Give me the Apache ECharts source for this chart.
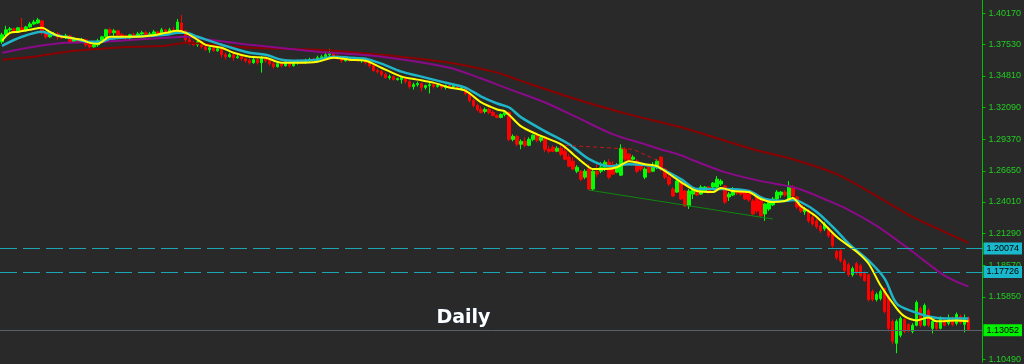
<!DOCTYPE html>
<html>
<head>
<meta charset="utf-8">
<script src="https://cdn.jsdelivr.net/npm/echarts@6/dist/echarts.min.js"></script>
<style>
html,body{margin:0;padding:0;background:#292929;}
#chart{width:1024px;height:364px;}
</style>
</head>
<body>
<div id="chart"></div>
<script>
// ---- Data (daily candles) ----
const opens = [1.3772,1.3832,1.3875,1.3883,1.3866,1.3892,1.3866,1.3900,1.3925,1.3934,
1.3951,1.3849,1.3815,1.3832,1.3840,1.3815,1.3806,1.3823,1.3772,1.3798,
1.3772,1.3789,1.3746,1.3729,1.3746,1.3781,1.3815,1.3875,1.3849,1.3866,
1.3832,1.3823,1.3806,1.3832,1.3815,1.3840,1.3849,1.3832,1.3840,1.3857,
1.3840,1.3875,1.3857,1.3875,1.3866,1.3934,1.3866,1.3789,1.3763,1.3746,
1.3772,1.3729,1.3704,1.3721,1.3695,1.3712,1.3661,1.3644,1.3661,1.3636,
1.3644,1.3627,1.3610,1.3593,1.3619,1.3593,1.3636,1.3610,1.3584,1.3559,
1.3584,1.3567,1.3593,1.3567,1.3593,1.3601,1.3593,1.3610,1.3619,1.3610,
1.3636,1.3644,1.3661,1.3670,1.3644,1.3636,1.3610,1.3627,1.3619,1.3627,
1.3610,1.3619,1.3593,1.3567,1.3525,1.3516,1.3491,1.3465,1.3474,1.3448,
1.3448,1.3465,1.3431,1.3388,1.3405,1.3414,1.3380,1.3397,1.3405,1.3388,
1.3397,1.3380,1.3397,1.3388,1.3397,1.3371,1.3380,1.3329,1.3269,1.3226,
1.3192,1.3175,1.3192,1.3167,1.3141,1.3124,1.3150,1.3167,1.2936,1.2962,
1.2894,1.2919,1.2885,1.2936,1.2971,1.2928,1.2954,1.2851,1.2868,1.2834,
1.2860,1.2834,1.2783,1.2749,1.2663,1.2663,1.2612,1.2681,1.2510,1.2663,
1.2663,1.2697,1.2740,1.2715,1.2655,1.2629,1.2851,1.2809,1.2766,1.2749,
1.2723,1.2612,1.2706,1.2663,1.2697,1.2783,1.2681,1.2612,1.2510,1.2484,
1.2570,1.2493,1.2365,1.2467,1.2510,1.2467,1.2493,1.2527,1.2527,1.2527,
1.2553,1.2536,1.2442,1.2459,1.2493,1.2484,1.2493,1.2467,1.2408,1.2442,
1.2408,1.2297,1.2339,1.2374,1.2425,1.2459,1.2484,1.2425,1.2527,1.2442,
1.2374,1.2314,1.2322,1.2271,1.2237,1.2194,1.2169,1.2169,1.2126,1.1973,
1.1981,1.1896,1.1862,1.1776,1.1870,1.1853,1.1785,1.1776,1.1632,1.1563,
1.1572,1.1657,1.1589,1.1376,1.1188,1.1256,1.1393,1.1350,1.1290,1.1342,
1.1487,1.1342,1.1469,1.1316,1.1359,1.1316,1.1393,1.1359,1.1384,1.1359,
1.1418,1.1350,1.1401];

const closes = [1.3832,1.3875,1.3883,1.3866,1.3892,1.3866,1.3900,1.3925,1.3942,1.3960,
1.3849,1.3815,1.3832,1.3840,1.3815,1.3806,1.3823,1.3772,1.3798,1.3772,
1.3789,1.3746,1.3729,1.3746,1.3781,1.3815,1.3875,1.3849,1.3866,1.3832,
1.3823,1.3806,1.3832,1.3815,1.3840,1.3849,1.3832,1.3840,1.3857,1.3840,
1.3875,1.3857,1.3875,1.3866,1.3942,1.3866,1.3789,1.3763,1.3746,1.3772,
1.3729,1.3704,1.3721,1.3695,1.3712,1.3661,1.3644,1.3661,1.3636,1.3644,
1.3627,1.3610,1.3593,1.3619,1.3593,1.3636,1.3610,1.3584,1.3559,1.3584,
1.3567,1.3593,1.3567,1.3593,1.3601,1.3593,1.3610,1.3619,1.3610,1.3636,
1.3644,1.3661,1.3670,1.3644,1.3636,1.3610,1.3627,1.3619,1.3627,1.3610,
1.3619,1.3593,1.3567,1.3525,1.3516,1.3491,1.3465,1.3474,1.3448,1.3457,
1.3465,1.3431,1.3388,1.3405,1.3414,1.3380,1.3397,1.3405,1.3388,1.3397,
1.3380,1.3397,1.3388,1.3397,1.3371,1.3380,1.3329,1.3269,1.3226,1.3192,
1.3167,1.3192,1.3167,1.3141,1.3124,1.3150,1.3167,1.2936,1.2962,1.2894,
1.2919,1.2885,1.2936,1.2971,1.2928,1.2954,1.2851,1.2834,1.2834,1.2860,
1.2809,1.2766,1.2706,1.2681,1.2697,1.2595,1.2663,1.2510,1.2663,1.2638,
1.2697,1.2740,1.2612,1.2638,1.2715,1.2860,1.2766,1.2749,1.2783,1.2663,
1.2681,1.2681,1.2655,1.2715,1.2749,1.2681,1.2612,1.2553,1.2450,1.2578,
1.2425,1.2365,1.2493,1.2510,1.2459,1.2527,1.2527,1.2484,1.2561,1.2595,
1.2578,1.2399,1.2467,1.2510,1.2476,1.2467,1.2425,1.2416,1.2297,1.2322,
1.2280,1.2382,1.2399,1.2425,1.2484,1.2484,1.2459,1.2536,1.2450,1.2357,
1.2322,1.2339,1.2237,1.2211,1.2186,1.2152,1.2211,1.2109,1.2024,1.1921,
1.1896,1.1811,1.1776,1.1828,1.1793,1.1768,1.1725,1.1563,1.1563,1.1606,
1.1632,1.1461,1.1316,1.1205,1.1376,1.1401,1.1290,1.1299,1.1342,1.1538,
1.1342,1.1512,1.1342,1.1376,1.1316,1.1401,1.1342,1.1401,1.1350,1.1435,
1.1367,1.1401,1.1305];

const lows = [1.3755,1.3823,1.3857,1.3849,1.3857,1.3857,1.3857,1.3892,1.3917,1.3925,
1.3832,1.3798,1.3806,1.3823,1.3789,1.3798,1.3798,1.3755,1.3763,1.3755,
1.3763,1.3729,1.3712,1.3721,1.3729,1.3772,1.3806,1.3832,1.3823,1.3815,
1.3798,1.3789,1.3798,1.3806,1.3806,1.3823,1.3815,1.3823,1.3832,1.3832,
1.3832,1.3840,1.3849,1.3857,1.3857,1.3849,1.3763,1.3746,1.3738,1.3729,
1.3712,1.3695,1.3678,1.3687,1.3687,1.3636,1.3619,1.3636,1.3610,1.3627,
1.3610,1.3593,1.3576,1.3584,1.3576,1.3508,1.3593,1.3567,1.3542,1.3550,
1.3550,1.3559,1.3550,1.3559,1.3576,1.3584,1.3584,1.3593,1.3601,1.3601,
1.3627,1.3636,1.3644,1.3636,1.3619,1.3593,1.3601,1.3601,1.3610,1.3601,
1.3593,1.3576,1.3550,1.3516,1.3499,1.3474,1.3457,1.3448,1.3440,1.3440,
1.3414,1.3414,1.3371,1.3363,1.3388,1.3346,1.3363,1.3329,1.3371,1.3380,
1.3363,1.3363,1.3371,1.3380,1.3363,1.3354,1.3312,1.3252,1.3209,1.3175,
1.3158,1.3158,1.3150,1.3133,1.3116,1.3116,1.3133,1.2919,1.2919,1.2877,
1.2851,1.2868,1.2877,1.2919,1.2911,1.2911,1.2826,1.2817,1.2826,1.2826,
1.2792,1.2757,1.2697,1.2672,1.2646,1.2578,1.2595,1.2501,1.2493,1.2612,
1.2646,1.2663,1.2595,1.2629,1.2646,1.2621,1.2749,1.2740,1.2757,1.2646,
1.2663,1.2595,1.2646,1.2655,1.2681,1.2663,1.2595,1.2536,1.2442,1.2476,
1.2416,1.2357,1.2339,1.2425,1.2450,1.2459,1.2484,1.2467,1.2510,1.2518,
1.2536,1.2382,1.2408,1.2450,1.2459,1.2450,1.2416,1.2399,1.2288,1.2305,
1.2271,1.2237,1.2322,1.2365,1.2408,1.2433,1.2442,1.2416,1.2433,1.2339,
1.2305,1.2288,1.2220,1.2194,1.2169,1.2135,1.2152,1.2092,1.2007,1.1904,
1.1879,1.1793,1.1759,1.1759,1.1776,1.1751,1.1717,1.1546,1.1546,1.1546,
1.1555,1.1444,1.1290,1.1179,1.1103,1.1239,1.1273,1.1282,1.1273,1.1333,
1.1325,1.1333,1.1325,1.1273,1.1299,1.1307,1.1333,1.1342,1.1333,1.1342,
1.1350,1.1282,1.1295];

const highs = [1.3849,1.3909,1.3900,1.3892,1.3900,1.3977,1.3909,1.3942,1.3960,1.3977,
1.3960,1.3857,1.3849,1.3857,1.3857,1.3832,1.3840,1.3832,1.3815,1.3806,
1.3806,1.3798,1.3755,1.3755,1.3798,1.3823,1.3883,1.3892,1.3883,1.3875,
1.3849,1.3832,1.3840,1.3849,1.3857,1.3866,1.3866,1.3857,1.3875,1.3866,
1.3892,1.3883,1.3892,1.3900,1.3968,1.4002,1.3875,1.3806,1.3781,1.3781,
1.3781,1.3738,1.3738,1.3729,1.3721,1.3721,1.3678,1.3678,1.3670,1.3661,
1.3653,1.3636,1.3627,1.3636,1.3636,1.3653,1.3644,1.3619,1.3601,1.3601,
1.3593,1.3610,1.3601,1.3610,1.3619,1.3619,1.3627,1.3636,1.3636,1.3653,
1.3661,1.3687,1.3712,1.3678,1.3661,1.3644,1.3636,1.3636,1.3644,1.3636,
1.3627,1.3627,1.3601,1.3576,1.3542,1.3533,1.3508,1.3491,1.3482,1.3465,
1.3482,1.3474,1.3440,1.3422,1.3431,1.3422,1.3405,1.3422,1.3414,1.3405,
1.3405,1.3405,1.3405,1.3414,1.3405,1.3388,1.3388,1.3337,1.3286,1.3243,
1.3218,1.3209,1.3209,1.3184,1.3150,1.3158,1.3184,1.3175,1.2979,1.2971,
1.2936,1.2954,1.2954,1.2979,1.2988,1.2962,1.2962,1.2877,1.2885,1.2877,
1.2885,1.2868,1.2809,1.2783,1.2715,1.2672,1.2681,1.2723,1.2681,1.2723,
1.2740,1.2757,1.2766,1.2749,1.2732,1.2894,1.2868,1.2817,1.2800,1.2766,
1.2732,1.2697,1.2723,1.2740,1.2766,1.2792,1.2689,1.2629,1.2527,1.2595,
1.2587,1.2501,1.2510,1.2527,1.2518,1.2544,1.2536,1.2536,1.2570,1.2621,
1.2595,1.2544,1.2484,1.2527,1.2501,1.2501,1.2501,1.2484,1.2425,1.2459,
1.2425,1.2391,1.2416,1.2442,1.2501,1.2493,1.2501,1.2578,1.2544,1.2450,
1.2382,1.2357,1.2339,1.2288,1.2254,1.2211,1.2228,1.2186,1.2135,1.1990,
1.1998,1.1913,1.1879,1.1845,1.1887,1.1870,1.1802,1.1785,1.1649,1.1623,
1.1649,1.1666,1.1606,1.1393,1.1393,1.1418,1.1401,1.1359,1.1359,1.1555,
1.1504,1.1529,1.1487,1.1393,1.1376,1.1418,1.1410,1.1435,1.1418,1.1452,
1.1435,1.1435,1.1418];

// Moving averages: [candle index, price]
const maYellow = [[0,1.3781],[2,1.3849],[4,1.3857],[7,1.3875],[10,1.3892],[12,1.3857],[14,1.3823],[17,1.3806],[20,1.3789],[22,1.3763],[24,1.3755],[25,1.3772],[27,1.3815],[33,1.3815],[37,1.3823],[41,1.3849],[44,1.3866],[46,1.3849],[49,1.3789],[51,1.3746],[55,1.3721],[58,1.3678],[62,1.3644],[66,1.3636],[70,1.3593],[74,1.3593],[79,1.3601],[83,1.3636],[87,1.3619],[91,1.3610],[95,1.3550],[100,1.3474],[104,1.3448],[108,1.3422],[112,1.3380],[116,1.3354],[120,1.3252],[124,1.3192],[126,1.3175],[130,1.3047],[134,1.2979],[140,1.2893],[143,1.2809],[146,1.2723],[148,1.2681],[151,1.2681],[154,1.2697],[157,1.2749],[161,1.2723],[164,1.2706],[170,1.2570],[174,1.2493],[178,1.2484],[180,1.2518],[183,1.2493],[187,1.2484],[190,1.2425],[193,1.2399],[196,1.2408],[198,1.2433],[200,1.2365],[204,1.2271],[209,1.2101],[214,1.1973],[217,1.1870],[220,1.1683],[224,1.1487],[226,1.1418],[229,1.1384],[232,1.1410],[234,1.1376],[239,1.1384],[242,1.1376]];
const maCyan = [[0,1.3738],[5,1.3815],[10,1.3858],[12,1.3840],[17,1.3806],[22,1.3772],[25,1.3772],[27,1.3798],[33,1.3815],[41,1.3832],[44,1.3849],[46,1.3849],[49,1.3815],[55,1.3747],[62,1.3678],[66,1.3661],[70,1.3619],[74,1.3610],[79,1.3619],[83,1.3644],[87,1.3636],[91,1.3627],[95,1.3585],[100,1.3516],[104,1.3482],[108,1.3448],[112,1.3414],[116,1.3380],[120,1.3303],[124,1.3243],[127,1.3209],[130,1.3124],[136,1.3005],[142,1.2894],[147,1.2766],[152,1.2706],[157,1.2723],[164,1.2698],[170,1.2595],[174,1.2510],[181,1.2510],[187,1.2493],[191,1.2425],[196,1.2408],[198,1.2416],[200,1.2399],[204,1.2314],[209,1.2152],[212,1.2041],[217,1.1896],[221,1.1742],[224,1.1529],[228,1.1461],[232,1.1418],[236,1.1401],[242,1.1401]];
const maPurple = [[0,1.3678],[8,1.3730],[16,1.3764],[25,1.3772],[33,1.3789],[41,1.3806],[46,1.3815],[50,1.3798],[58,1.3764],[62,1.3747],[79,1.3687],[95,1.3644],[112,1.3550],[120,1.3457],[124,1.3405],[128,1.3354],[136,1.3252],[144,1.3124],[153,1.2979],[161,1.2894],[164,1.2860],[170,1.2800],[173,1.2757],[181,1.2655],[190,1.2578],[198,1.2527],[203,1.2467],[207,1.2408],[211,1.2348],[219,1.2194],[228,1.1973],[236,1.1768],[242,1.1674]];
const maDarkRed = [[0,1.3619],[8,1.3644],[16,1.3687],[25,1.3713],[33,1.3730],[41,1.3738],[46,1.3764],[50,1.3755],[62,1.3721],[79,1.3704],[95,1.3661],[112,1.3593],[124,1.3508],[129,1.3448],[144,1.3278],[157,1.3150],[170,1.3039],[188,1.2851],[198,1.2766],[209,1.2638],[219,1.2450],[228,1.2271],[236,1.2143],[242,1.2049]];

// Drawn objects
const greenTrend = [[147,1.2501],[193,1.2253]];
const redTrend = [[141,1.2885],[158,1.2851],[164,1.2757]];
const levelLines = [1.20074, 1.17726];
const lastPrice = 1.13052;

// Axis ticks
const tickValues = [1.40170,1.37530,1.34810,1.32090,1.29370,1.26650,1.24010,1.21290,1.18570,1.15850,1.10490];
const yMin = 1.10259, yMax = 1.41304;
const emptySlots = 3;

const categories = opens.map((_, i) => 'D' + (i + 1));
for (let k = 0; k < emptySlots; k++) categories.push('D' + (opens.length + k + 1));
const candleData = opens.map((o, i) => [o, closes[i], lows[i], highs[i]]);

const chart = echarts.init(document.getElementById('chart'), null, {renderer: 'canvas'});
const lblFont = 'Liberation Sans';

const levelMarks = levelLines.map(v => ({
  yAxis: v,
  lineStyle: {color: '#1ba6b6', width: 1, type: [17, 6]},
  label: {show: true, position: 'end', distance: 1, formatter: v.toFixed(5),
    backgroundColor: '#1ab8cc', color: '#000', fontSize: 9, fontFamily: lblFont,
    padding: [1, 3, 1, 3], lineHeight: 10}
}));
levelMarks.push({
  yAxis: lastPrice,
  lineStyle: {color: '#596068', width: 1, type: 'solid'},
  label: {show: true, position: 'end', distance: 1, formatter: lastPrice.toFixed(5),
    backgroundColor: '#00f000', color: '#000', fontSize: 9, fontFamily: lblFont,
    padding: [1, 3, 1, 3], lineHeight: 10}
});

function maSeries(name, data, color, width) {
  return {name, type: 'line', data, showSymbol: false, symbol: 'none', smooth: 0.3,
    lineStyle: {color, width}, silent: true, z: 3};
}

chart.setOption({
  backgroundColor: '#292929',
  animation: false,
  grid: {left: 0, right: 40, top: 0, bottom: 0, containLabel: false},
  xAxis: {type: 'category', data: categories, boundaryGap: true,
    axisLine: {show: false}, axisTick: {show: false}, axisLabel: {show: false}, splitLine: {show: false}},
  yAxis: {type: 'value', position: 'right', min: yMin, max: yMax, scale: true,
    axisLine: {show: true, lineStyle: {color: '#00c000', width: 1}},
    axisTick: {show: true, inside: false, length: 3, customValues: tickValues, lineStyle: {color: '#00c000'}},
    axisLabel: {show: true, customValues: tickValues, color: '#22cc22', fontSize: 9, fontFamily: lblFont,
      margin: 6, formatter: v => v.toFixed(5)},
    splitLine: {show: false}},
  series: [
    {type: 'candlestick', data: candleData, barWidth: 3, z: 2,
      itemStyle: {color: '#00ff00', color0: '#ff0000', borderColor: '#00ff00', borderColor0: '#ff0000', borderWidth: 1},
      markLine: {silent: true, symbol: ['none', 'none'], animation: false, data: levelMarks}},
    maSeries('MA200', maDarkRed, '#8b0000', 2),
    maSeries('MA50', maPurple, '#8a0a8a', 2),
    maSeries('MA10', maCyan, '#1fb5c8', 2.5),
    maSeries('MA5', maYellow, '#ffff00', 2),
    {type: 'line', data: greenTrend, symbol: 'none', lineStyle: {color: '#0e870e', width: 1}, silent: true, z: 4},
    {type: 'line', data: redTrend, symbol: 'none', lineStyle: {color: '#c81414', width: 1, type: [4, 3]}, silent: true, z: 4}
  ],
  graphic: [{type: 'text', left: 436, top: 308, z: 10,
    style: {text: 'Daily', fill: '#ffffff', font: 'bold 19px "DejaVu Sans"', stroke: '#20324a', lineWidth: 1}}]
});
</script>
</body>
</html>
